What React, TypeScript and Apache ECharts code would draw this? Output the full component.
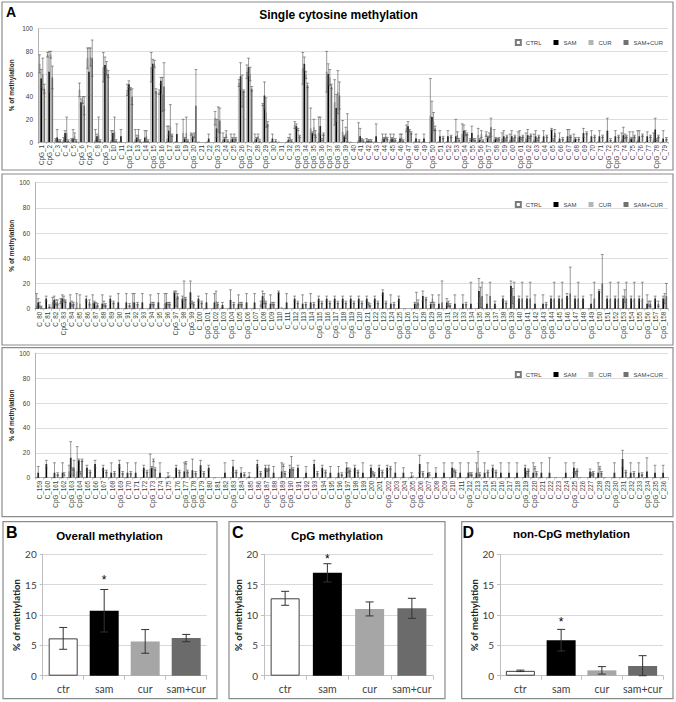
import React, { useEffect, useRef } from "react";
import * as echarts from "echarts";

// ---------- Panel A data ----------
const seriesNames = ["CTRL", "SAM", "CUR", "SAM+CUR"];

const topLabels = "CpG_1 CpG_2 C_3 C_4 C_5 CpG_6 CpG_7 C_8 CpG_9 C_10 C_11 CpG_12 C_13 C_14 CpG_15 CpG_16 C_17 C_18 C_19 CpG_20 C_21 C_22 CpG_23 C_24 C_25 CpG_26 CpG_27 C_28 CpG_29 C_30 C_31 C_32 CpG_33 CpG_34 CpG_35 CpG_36 CpG_37 CpG_38 CpG_39 C_40 C_41 C_42 C_43 C_44 C_45 C_46 CpG_47 C_48 C_49 CpG_50 C_51 C_52 C_53 CpG_54 C_55 CpG_56 CpG_57 C_58 C_59 C_60 CpG_61 CpG_62 C_63 C_64 C_65 C_66 C_67 C_68 C_69 C_70 C_71 CpG_72 CpG_73 C_74 C_75 C_76 C_77 CpG_78 C_79".split(" ");
const topCtrl = [69,77,2,2,2,46,74,2,66,2, 0,46,2,0,66,44,3,0,8,7, 0,0,21,2,2,52,62,2,33,0, 0,0,15,65,12,8,62,35,9,0, 2,1,0,3,2,0,12,0,0,23, 0,0,0,7,2,6,7,2,3,2, 4,3,2,0,0,0,0,2,0,0, 0,0,0,2,3,2,0,3,0];
const topSam = [56,62,4,8,3,35,62,5,68,8, 5,51,4,4,69,54,10,7,3,5, 0,3,12,3,3,58,66,3,41,3, 0,2,14,69,8,14,60,30,5,0, 5,1,5,3,3,3,14,3,3,22, 5,5,5,10,8,2,4,3,5,5, 5,6,5,5,11,3,5,3,8,5, 5,10,5,6,3,5,5,11,3];
const topCur = [60,77,1,8,5,37,75,6,65,9, 0,47,6,5,69,42,13,0,8,6, 0,0,20,7,3,45,60,5,26,0, 0,4,11,59,13,2,57,44,8,0, 2,1,0,5,3,4,10,0,0,18, 0,0,6,8,2,7,6,2,2,2, 3,4,2,0,2,0,5,0,0,0, 0,0,0,5,4,0,0,2,0];
const topSc = [47,57,1,1,1,32,74,1,60,1, 0,40,1,1,45,49,6,0,1,32, 0,0,19,1,3,45,47,1,16,1, 0,1,5,50,7,7,49,41,10,0, 1,1,0,3,2,1,8,1,0,12, 4,5,2,7,2,1,13,3,5,5, 5,6,5,5,8,3,5,3,8,5, 5,2,5,5,5,6,5,5,3];
const topCtrlE = [8,2,1,2,1,6,9,9,13,8, 0,5,9,0,13,2,11,0,12,1, 0,0,6,6,5,3,6,5,1,0, 0,0,3,14,18,14,18,20,10,0, 15,2,0,4,5,0,3,0,0,33, 0,0,0,9,1,6,2,9,5,5, 5,5,5,0,0,0,0,5,0,0, 0,0,0,6,6,8,0,5,0];
const topSamE = [8,18,7,2,8,3,21,2,7,2, 6,3,2,6,4,3,4,9,1,2, 0,4,8,1,1,12,8,1,12,4, 0,2,2,6,1,8,9,12,1,0, 7,1,11,1,1,4,4,4,4,14, 5,5,15,5,6,1,1,1,5,5, 5,5,5,5,1,5,6,1,4,5, 5,11,5,7,1,5,4,10,7];
const topCurE = [14,3,1,14,3,3,8,16,6,13, 0,1,5,5,3,15,20,0,14,2, 0,0,11,3,4,14,6,2,13,0, 0,3,1,3,7,1,7,19,5,0, 1,1,0,2,4,3,1,0,0,8, 0,0,3,2,1,3,2,1,1,1, 1,1,1,0,1,0,6,0,0,0, 0,0,0,2,5,0,0,1,0];
const topScE = [4,10,1,1,1,8,16,1,3,1, 0,7,1,1,2,21,1,0,1,32, 0,0,11,1,1,1,2,1,2,1, 0,1,1,2,3,1,2,12,15,0, 1,1,0,1,1,1,1,1,0,2, 1,1,1,1,1,1,8,1,1,1, 1,1,1,1,3,1,1,1,1,1, 1,1,1,1,1,1,1,1,1];

const midLabels = "C_80 C_81 C_82 CpG_83 C_84 C_85 C_86 C_87 C_88 C_89 C_90 C_91 C_92 C_93 C_94 C_95 C_96 CpG_97 C_98 CpG_99 C_100 CpG_101 CpG_102 C_103 CpG_104 C_105 CpG_106 C_107 C_108 C_109 C_110 C_111 C_112 C_113 C_114 CpG_115 C_116 CpG_117 C_118 CpG_119 C_120 CpG_121 C_122 C_123 C_124 CpG_125 CpG_126 C_127 C_128 CpG_129 C_130 CpG_131 C_132 C_133 C_134 CpG_135 C_136 C_137 C_138 CpG_139 C_140 CpG_141 C_142 CpG_143 CpG_144 C_145 C_146 C_147 C_148 CpG_149 C_150 C_151 C_152 CpG_153 C_154 C_155 CpG_156 C_157 CpG_158".split(" ");
const midCtrl = [2,0,5,6,0,5,0,4,0,0, 0,0,5,0,0,0,4,0,0,0, 0,0,0,0,0,0,0,0,4,0, 0,0,0,0,0,0,0,0,0,0, 0,0,0,0,0,0,0,0,0,0, 0,0,0,0,0,0,0,0,0,0, 0,0,0,0,0,0,0,0,0,0, 0,0,0,0,0,0,0,0,0];
const midSam = [5,8,7,8,5,0,8,5,4,8, 5,5,5,5,4,5,5,13,8,13, 8,5,5,3,7,4,5,5,10,4, 13,5,8,4,5,8,8,8,8,8, 8,8,8,13,4,8,0,4,10,4, 4,5,4,4,4,14,4,4,8,18, 8,8,4,4,8,8,10,8,8,4, 14,8,8,8,8,8,4,8,8];
const midCur = [3,0,5,8,4,4,0,2,4,0, 0,0,0,0,4,0,4,8,9,5, 0,0,6,0,0,4,0,0,8,4, 1,0,0,0,0,0,0,0,0,0, 0,4,0,0,0,0,0,3,0,8, 0,4,0,0,0,9,0,0,0,10, 0,0,0,0,0,0,0,0,0,0, 0,0,0,10,0,0,4,0,8];
const midSc = [1,2,5,6,4,0,5,3,3,5, 0,3,4,0,4,0,4,10,8,4, 5,0,4,0,4,4,0,0,5,4, 1,0,5,4,4,5,5,5,5,5, 5,3,5,5,4,0,0,5,8,4, 5,3,0,4,0,10,10,0,5,10, 8,8,0,4,8,8,12,8,0,8, 20,8,8,8,8,8,4,4,10];
const midCtrlE = [10,0,4,2,0,7,0,7,0,0, 0,0,7,0,0,0,8,0,0,0, 0,0,0,0,0,0,0,0,2,0, 0,0,0,0,0,0,0,0,0,0, 0,0,0,0,0,0,0,0,0,0, 0,0,0,0,0,0,0,0,0,0, 0,0,0,0,0,0,0,0,0,0, 0,0,0,0,0,0,0,0,0];
const midSamE = [3,2,3,3,6,0,2,1,7,2, 7,7,7,7,7,7,7,1,2,9, 2,7,7,2,8,7,7,7,4,7, 1,7,2,7,7,2,2,2,2,2, 2,2,2,2,7,2,0,1,4,1, 7,3,7,7,17,10,7,2,2,4, 2,2,7,7,2,2,2,2,2,7, 1,2,2,2,2,2,7,2,2];
const midCurE = [2,0,2,2,2,7,0,3,2,0, 0,0,0,0,1,0,1,6,13,1, 0,0,8,0,0,1,0,0,4,1, 0,0,0,0,0,0,0,0,0,0, 0,1,0,0,0,0,0,10,0,3, 0,2,0,0,0,8,0,0,0,6, 0,0,0,0,0,0,0,0,0,0, 0,0,0,5,0,0,2,0,4];
const midScE = [1,1,2,1,1,0,2,1,1,1, 0,1,1,0,1,0,1,2,1,1, 1,0,1,0,1,1,0,0,1,1, 0,0,1,1,1,1,1,1,1,1, 1,1,1,1,1,0,0,2,1,1, 17,1,0,1,0,11,11,0,1,11, 13,13,0,1,13,13,21,13,0,13, 23,13,13,13,13,13,2,2,10];

const botLabels = "C_159 C_160 CpG_161 C_162 CpG_163 CpG_164 C_165 C_166 C_167 C_168 CpG_169 C_170 C_171 C_172 CpG_173 C_174 C_175 C_176 CpG_177 CpG_178 CpG_179 C_180 C_181 C_182 CpG_183 C_184 C_185 C_186 CpG_187 C_188 CpG_189 CpG_190 C_191 C_192 C_193 C_194 C_195 C_196 CpG_197 C_198 C_199 C_200 C_201 CpG_202 C_203 C_204 CpG_205 CpG_206 C_207 C_208 C_209 C_210 C_211 CpG_212 C_213 C_214 C_215 C_216 C_217 C_218 CpG_219 CpG_220 C_221 C_222 C_223 C_224 CpG_225 C_226 C_227 C_228 C_229 CpG_230 C_231 C_232 C_233 CpG_234 CpG_235 C_236".split(" ");
const botCtrl = [0,0,0,0,5,5,0,0,0,0, 0,0,0,0,7,0,0,0,0,0, 0,0,0,0,0,0,0,0,0,0, 0,0,0,0,0,0,0,0,0,0, 0,0,0,0,0,0,0,0,0,0, 0,0,0,0,0,0,0,0,0,0, 0,0,0,0,0,0,0,0,0,0, 0,0,0,0,0,0,0,0];
const botSam = [4,11,4,4,16,14,8,11,8,4, 11,4,4,8,8,4,1,8,5,6, 10,8,0,4,9,4,1,11,8,4, 5,7,8,4,11,8,4,4,8,8, 4,8,8,8,4,4,1,11,4,4, 4,8,4,4,4,4,8,4,4,4, 8,4,4,4,0,4,8,0,5,4, 0,4,15,4,4,5,4,4];
const botCur = [0,0,0,3,7,4,0,0,0,0, 0,0,0,0,14,0,2,0,12,0, 0,0,0,0,0,0,0,0,6,0, 10,8,0,0,0,0,0,0,6,0, 0,4,0,0,0,0,2,0,3,0, 0,6,0,3,8,0,0,0,0,0, 4,8,0,0,0,0,4,0,3,8, 0,0,0,0,0,0,0,0];
const botSc = [0,0,3,0,8,14,5,0,5,4, 4,4,0,5,7,0,0,5,5,4, 4,0,0,0,5,3,0,4,8,0, 4,7,0,0,4,5,0,3,6,5, 0,3,5,8,0,0,0,4,0,0, 0,5,0,3,3,5,5,0,0,0, 6,4,0,0,0,0,6,0,4,4, 0,0,5,4,3,0,0,0];
const botCtrlE = [0,0,0,0,5,20,0,0,0,0, 0,0,0,0,12,0,0,0,0,0, 0,0,0,0,0,0,0,0,0,0, 0,0,0,0,0,0,0,0,0,0, 0,0,0,0,0,0,0,0,0,0, 0,0,0,0,0,0,0,0,0,0, 0,0,0,0,0,0,0,0,0,0, 0,0,0,0,0,0,0,0];
const botSamE = [5,3,8,8,13,1,2,3,2,8, 3,8,8,2,1,8,3,2,7,9, 4,2,0,8,5,4,3,3,2,5, 7,3,2,5,3,2,5,5,4,2, 8,2,2,2,8,4,3,7,8,4, 8,4,8,8,8,8,2,8,8,8, 2,8,8,12,0,8,4,0,2,8, 0,8,7,8,8,11,6,6];
const botCurE = [0,0,0,1,1,1,0,0,0,0, 0,0,0,0,1,0,0,0,1,0, 0,0,0,0,0,0,0,0,1,0, 1,9,0,0,0,0,0,0,2,0, 0,1,0,0,0,0,0,0,1,0, 0,1,0,1,13,0,0,0,0,0, 1,1,0,0,0,0,1,0,1,1, 0,0,0,0,0,0,0,0];
const botScE = [0,0,1,0,6,1,1,0,1,1, 1,1,0,1,1,0,0,1,1,1, 1,0,0,0,1,1,0,1,2,0, 1,1,0,0,1,1,0,1,1,1, 0,1,1,1,0,0,0,1,0,0, 0,1,0,1,1,1,1,0,0,0, 1,1,0,0,0,0,1,0,1,1, 0,0,1,1,1,0,0,0];

// ---------- Panels B, C, D data ----------
const groupLabels = ["ctr", "sam", "cur", "sam+cur"];
const overallMean = [6.15, 10.7, 5.65, 6.2];
const overallErr = [1.8, 3.5, 1.95, 0.6];
const overallStar = [1, 16.3];
const cpgMean = [12.75, 16.95, 11.0, 11.1];
const cpgErr = [1.15, 1.5, 1.15, 1.65];
const cpgStar = [1, 19.8];
const nonCpgMean = [0.8, 5.85, 0.88, 1.6];
const nonCpgErr = [0.12, 1.78, 0.62, 1.7];
const nonCpgStar = [1, 9.3];

const aColors = ["#ffffff", "#000000", "#b5b5b5", "#707070"];
const bColors = ["#ffffff", "#000000", "#a6a6a6", "#6b6b6b"];

function errItems(vals: number[][], errs: number[][]) {
  const out: number[][] = [];
  for (let s = 0; s < vals.length; s++)
    for (let i = 0; i < vals[s].length; i++)
      if (errs[s][i] > 0) out.push([i, vals[s][i], errs[s][i], s]);
  return out;
}

function makeErrRender(nSeries: number, usedFrac: number, capHalf: number, color: string, lw: number) {
  return (params: any, api: any) => {
    const x = api.value(0), v = api.value(1), e = api.value(2), s = api.value(3);
    const band = api.size([1, 0])[0];
    const used = band * usedFrac;
    const bw = used / nSeries;
    const base = api.coord([x, v]);
    const cx = base[0] - used / 2 + bw * (s + 0.5);
    const top = api.coord([x, v + e])[1];
    const bot = api.coord([x, Math.max(0, v - e)])[1];
    const style = { stroke: color, lineWidth: lw, fill: null };
    return {
      type: "group",
      children: [
        { type: "line", shape: { x1: cx, y1: top, x2: cx, y2: bot }, style },
        { type: "line", shape: { x1: cx - capHalf, y1: top, x2: cx + capHalf, y2: top }, style },
        { type: "line", shape: { x1: cx - capHalf, y1: bot, x2: cx + capHalf, y2: bot }, style },
      ],
    };
  };
}

function starRender(params: any, api: any) {
  const p = api.coord([api.value(0), api.value(1)]);
  return {
    type: "text",
    style: {
      text: "*", x: p[0], y: p[1] + 3, fill: "#000", fontSize: 12, fontFamily: "Liberation Sans",
      align: "center", verticalAlign: "middle", textAlign: "center", textVerticalAlign: "middle",
    },
  };
}

export default function App() {
  const ref = useRef<HTMLDivElement>(null);
  useEffect(() => {
    if (!ref.current) return;
    const chart = echarts.init(ref.current, undefined, { renderer: "svg" });

    const aGrids = [
      { left: 36, top: 28.7, width: 632, height: 113.3 },
      { left: 35, top: 182.7, width: 633, height: 126 },
      { left: 35, top: 353.3, width: 633, height: 124.4 },
    ];
    const aNameGaps = [23, 20, 20];
    const bGrids = [
      { left: 42.7, top: 554.3, width: 164, height: 121.4 },
      { left: 264, top: 554.3, width: 169, height: 121.4 },
      { left: 500, top: 554.3, width: 163, height: 121.4 },
    ];
    const aData = [
      { labels: topLabels, vals: [topCtrl, topSam, topCur, topSc], errs: [topCtrlE, topSamE, topCurE, topScE] },
      { labels: midLabels, vals: [midCtrl, midSam, midCur, midSc], errs: [midCtrlE, midSamE, midCurE, midScE] },
      { labels: botLabels, vals: [botCtrl, botSam, botCur, botSc], errs: [botCtrlE, botSamE, botCurE, botScE] },
    ];
    const bData = [
      { mean: overallMean, err: overallErr, star: overallStar },
      { mean: cpgMean, err: cpgErr, star: cpgStar },
      { mean: nonCpgMean, err: nonCpgErr, star: nonCpgStar },
    ];

    const grid: any[] = [...aGrids, ...bGrids];
    const xAxis: any[] = [];
    const yAxis: any[] = [];
    const series: any[] = [];

    aData.forEach((d, gi) => {
      xAxis.push({
        type: "category", gridIndex: gi, data: d.labels,
        axisLine: { lineStyle: { color: "#a0a0a0", width: 0.8 } },
        axisTick: { show: true, length: 2, lineStyle: { color: "#a0a0a0", width: 0.6 } },
        axisLabel: { interval: 0, rotate: 90, fontSize: 6.3, color: "#404040", margin: 3, fontFamily: "Liberation Sans" },
      });
      yAxis.push({
        type: "value", gridIndex: gi, min: 0, max: 100, interval: 20,
        name: "% of methylation", nameLocation: "middle", nameGap: aNameGaps[gi], nameMoveOverlap: false,
        nameTextStyle: { fontSize: 6.5, fontWeight: "bold", color: "#222", fontFamily: "Liberation Sans" },
        axisLine: { show: true, lineStyle: { color: "#a0a0a0", width: 0.8 } },
        axisTick: { show: false },
        axisLabel: { fontSize: 6.5, color: "#404040", margin: 5, fontFamily: "Liberation Sans" },
        splitLine: { lineStyle: { color: "#d4d4d4", width: 0.8 } },
      });
      d.vals.forEach((v, si) => {
        series.push({
          name: seriesNames[si], type: "bar", xAxisIndex: gi, yAxisIndex: gi, data: v,
          barGap: "0%", barCategoryGap: "20%",
          itemStyle: si === 0
            ? { color: aColors[0], borderColor: "#7a7a7a", borderWidth: 0.5 }
            : { color: aColors[si] },
        });
      });
      series.push({
        type: "custom", xAxisIndex: gi, yAxisIndex: gi, z: 5,
        renderItem: makeErrRender(4, 0.8, 1.4, "#555", 0.6),
        data: errItems(d.vals, d.errs), encode: { x: 0, y: 1 },
      });
    });

    bData.forEach((d, k) => {
      const gi = 3 + k;
      xAxis.push({
        type: "category", gridIndex: gi, data: groupLabels,
        axisLine: { lineStyle: { color: "#bfbfbf", width: 1 } },
        axisTick: { show: true, length: 4, lineStyle: { color: "#bfbfbf" } },
        axisLabel: { interval: 0, fontSize: 10.5, color: "#404040", margin: 8, fontFamily: "Lato" },
      });
      yAxis.push({
        type: "value", gridIndex: gi, min: 0, max: 20, interval: 5,
        name: "% of methylation", nameLocation: "middle", nameGap: 21, nameMoveOverlap: false,
        nameTextStyle: { fontSize: 9.5, fontWeight: "bold", color: "#222", fontFamily: "Lato" },
        axisLine: { show: true, lineStyle: { color: "#bfbfbf" } },
        axisTick: { show: true, length: 3, lineStyle: { color: "#bfbfbf" } },
        axisLabel: { fontSize: 10, color: "#404040", margin: 6, fontFamily: "Lato" },
        splitLine: { lineStyle: { color: "#d9d9d9" } },
      });
      series.push({
        type: "bar", xAxisIndex: gi, yAxisIndex: gi, barWidth: 29,
        data: d.mean.map((m, i) => ({
          value: m,
          itemStyle: i === 0
            ? { color: bColors[0], borderColor: "#404040", borderWidth: 1 }
            : { color: bColors[i] },
        })),
      });
      series.push({
        type: "custom", xAxisIndex: gi, yAxisIndex: gi, z: 5,
        renderItem: makeErrRender(1, 0.7, 4, "#333", 1),
        data: d.mean.map((m, i) => [i, m, d.err[i], 0]), encode: { x: 0, y: 1 },
      });
      series.push({
        type: "custom", xAxisIndex: gi, yAxisIndex: gi, z: 6,
        renderItem: starRender, data: [d.star], encode: { x: 0, y: 1 },
      });
    });

    const legendBase = {
      right: 8, itemWidth: 5, itemHeight: 5, itemGap: 12, icon: "rect",
      textStyle: { fontSize: 6, color: "#404040", fontFamily: "Liberation Sans" },
      data: seriesNames, selectedMode: false,
    };

    const boxStyle = { fill: "none", stroke: "#8c8c8c", lineWidth: 1.2 };
    const letter = (t: string, x: number, y: number, size: number) => ({
      type: "text", left: x, top: y,
      style: { text: t, fill: "#000", fontSize: size, fontWeight: "bold", fontFamily: "Liberation Sans" },
    });
    const title = (t: string, cx: number, cy: number, size: number) => ({
      type: "text", x: cx, y: cy,
      style: {
        text: t, fill: "#000", fontSize: size, fontWeight: "bold", fontFamily: "Liberation Sans",
        align: "center", verticalAlign: "middle", textAlign: "center", textVerticalAlign: "middle",
      },
    });

    const graphic = [
      { type: "rect", shape: { x: 2, y: 2, width: 671, height: 168 }, style: boxStyle },
      { type: "rect", shape: { x: 2, y: 174, width: 671, height: 171 }, style: boxStyle },
      { type: "rect", shape: { x: 2, y: 347.7, width: 671, height: 169 }, style: boxStyle },
      { type: "rect", shape: { x: 3, y: 521.7, width: 214, height: 177 }, style: boxStyle },
      { type: "rect", shape: { x: 229, y: 521.7, width: 216, height: 177 }, style: boxStyle },
      { type: "rect", shape: { x: 461.7, y: 521.7, width: 211.3, height: 177 }, style: boxStyle },
      letter("A", 6, 5, 14),
      title("Single cytosine methylation", 338.5, 14.5, 12),
      letter("B", 6, 524, 16),
      letter("C", 232, 524, 16),
      letter("D", 462.5, 524, 16),
      title("Overall methylation", 109.5, 536, 11.5),
      title("CpG methylation", 337, 536, 11.5),
      title("non-CpG methylation", 571.5, 534, 11.5),
    ];

    chart.setOption({
      animation: false,
      backgroundColor: "#ffffff",
      textStyle: { fontFamily: "Liberation Sans" },
      grid,
      xAxis,
      yAxis,
      series,
      legend: [
        { ...legendBase, top: 34 },
        { ...legendBase, top: 196 },
        { ...legendBase, top: 366 },
      ],
      graphic,
    });
    return () => chart.dispose();
  }, []);

  return (
    <div
      ref={ref}
      style={{ position: "absolute", left: 0, top: 0, width: 676, height: 702, background: "#fff" }}
    />
  );
}
